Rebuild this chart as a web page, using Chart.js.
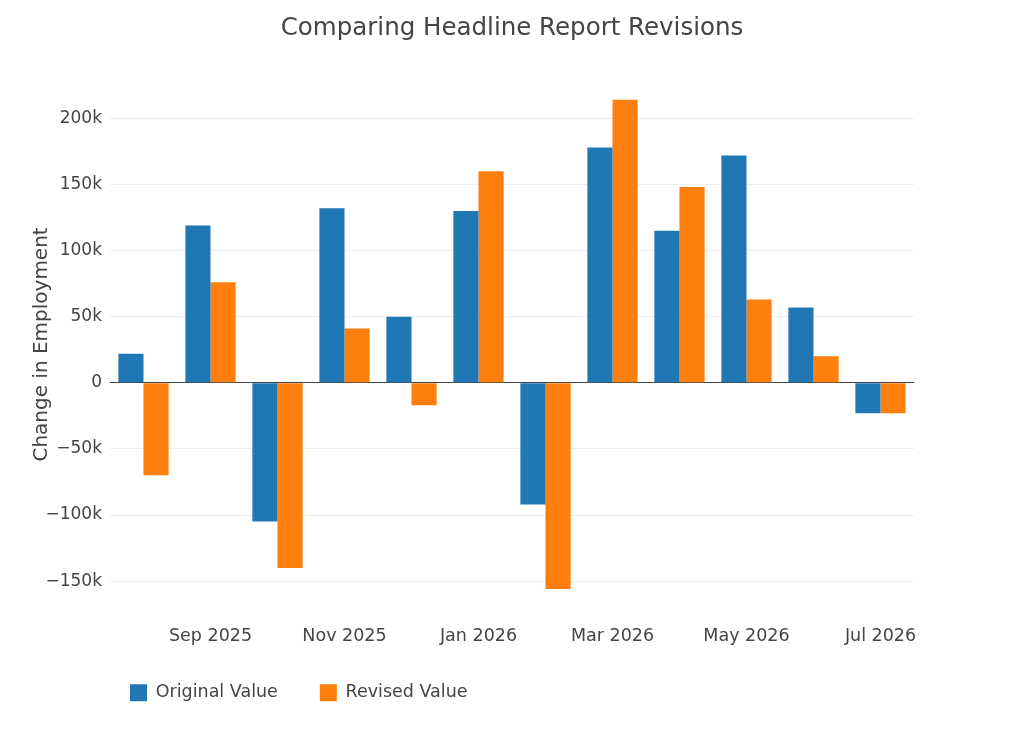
<!DOCTYPE html>
<html>
<head>
<meta charset="utf-8">
<title>Comparing Headline Report Revisions</title>
<script src="https://cdn.jsdelivr.net/npm/chart.js@4"></script>
<style>
  html, body { margin: 0; padding: 0; background: #fff; }
  #wrap { width: 1024px; height: 731px; }
</style>
</head>
<body>
<div id="wrap"><canvas id="revisionsChart"></canvas></div>
<script>
const months = ["Aug 2025", "Sep 2025", "Oct 2025", "Nov 2025", "Dec 2025", "Jan 2026",
  "Feb 2026", "Mar 2026", "Apr 2026", "May 2026", "Jun 2026", "Jul 2026"];
const originalValues = [22000, 119000, -105000, 132000, 50000, 130000,
  -92000, 178000, 115000, 172000, 57000, -23000];
const revisedValues = [-70000, 76000, -140000, 41000, -17000, 160000,
  -156000, 214000, 148000, 63000, 20000, -23000];
const yTicks = [-150000, -100000, -50000, 0, 50000, 100000, 150000, 200000];

const textColor = "#444";
const fontFamily = "'DejaVu Sans', Verdana, sans-serif";

// put the legend under the plot where the original has it
const legendShift = {
  id: "legendShift",
  afterLayout(chart) {
    const lg = chart.legend;
    const h = lg.bottom - lg.top;
    lg.left += 68;
    lg.right += 68;
    lg.top = 642;
    lg.bottom = 642 + h;
  }
};

const ctx = document.getElementById("revisionsChart").getContext("2d");
new Chart(ctx, {
  type: "bar",
  data: {
    labels: months,
    datasets: [
      {
        label: "Original Value",
        data: originalValues,
        backgroundColor: "#1f77b4",
        borderWidth: 0,
      },
      {
        label: "Revised Value",
        data: revisedValues,
        backgroundColor: "#ff7f0e",
        borderWidth: 0,
      },
    ],
  },
  options: {
    responsive: true,
    maintainAspectRatio: false,
    animation: false,
    layout: { padding: { left: 20, right: 20, top: 0, bottom: 8 } },
    datasets: { bar: { categoryPercentage: 0.75, barPercentage: 1 } },
    plugins: {
      title: {
        display: true,
        text: "Comparing Headline Report Revisions",
        color: textColor,
        font: { family: fontFamily, size: 24.5, weight: "normal" },
        padding: { top: 14, bottom: 32 },
      },
      legend: {
        position: "bottom",
        align: "start",
        labels: {
          color: textColor,
          font: { family: fontFamily, size: 17.5 },
          boxWidth: 17,
          boxHeight: 17,
          padding: 42,
        },
      },
      tooltip: { enabled: false },
    },
    scales: {
      x: {
        grid: { display: false },
        border: { display: false },
        ticks: {
          color: textColor,
          font: { family: fontFamily, size: 17.5 },
          autoSkip: false,
          maxRotation: 0,
          padding: 4,
          callback: (val, i) => (i % 2 === 1 ? months[i] : ""),
        },
        afterFit: (axis) => { axis.height = 40; },
      },
      y: {
        min: -174500,
        max: 232500,
        afterBuildTicks: (axis) => { axis.ticks = yTicks.map((v) => ({ value: v })); },
        grid: {
          color: (c) => (c.tick && c.tick.value === 0 ? "#444" : "#eee"),
          lineWidth: 1,
          drawTicks: false,
        },
        border: { display: false },
        ticks: {
          color: textColor,
          font: { family: fontFamily, size: 17 },
          padding: 8,
          callback: (v) => (v === 0 ? "0" : (v < 0 ? "\u2212" : "") + Math.abs(v / 1000) + "k"),
        },
        title: {
          display: true,
          text: "Change in Employment",
          color: textColor,
          font: { family: fontFamily, size: 20 },
          padding: { top: 10, bottom: 0 },
        },
        afterFit: (axis) => { axis.width = 90; },
      },
      yRight: {
        position: "right",
        grid: { display: false },
        border: { display: false },
        ticks: { display: false },
        afterFit: (axis) => { axis.width = 90; },
      },
    },
  },
  plugins: [legendShift],
});
</script>
</body>
</html>
